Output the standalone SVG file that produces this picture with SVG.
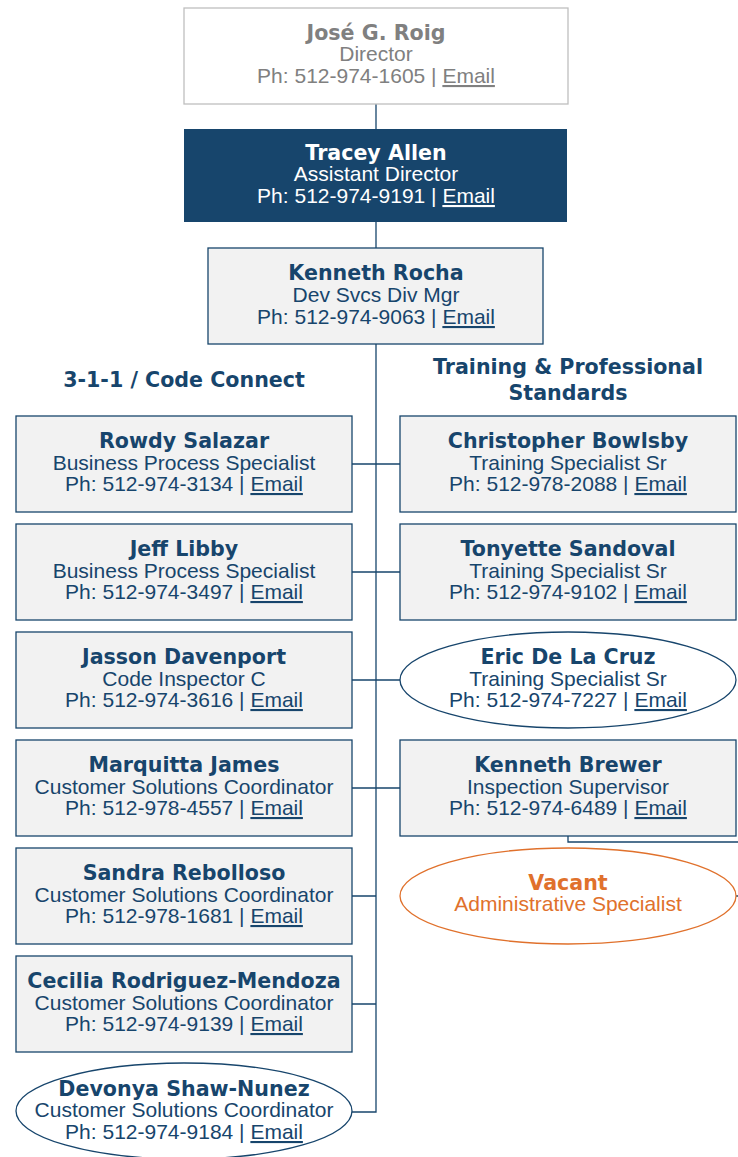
<svg xmlns="http://www.w3.org/2000/svg" width="738" height="1157" viewBox="0 0 738 1157">
<style>
.box{fill:#f2f2f2;stroke:#17456c;stroke-width:1.3}
.ell{fill:#fff;stroke:#17456c;stroke-width:1.3}
text{font-family:"Liberation Sans",Arial,sans-serif;font-size:21px;fill:#17456c;text-anchor:middle}
.nm{font-family:"DejaVu Sans",Verdana,sans-serif;font-weight:bold;font-size:20.6px}
.hd{font-family:"DejaVu Sans",Verdana,sans-serif;font-weight:bold;font-size:20.6px}
.u{text-decoration:underline}
.con{fill:none;stroke:#17456c;stroke-width:1.3}
</style>
<g id="connectors">
<path class="con" d="M376,104V1112H352"/>
<path class="con" d="M352,464H400M352,572H400M352,680H400M352,788H400M352,896H376M352,1004H376"/>
<path class="con" d="M568,836V842H738M736,896H738"/>
</g>
<g id="jose">
<rect x="184" y="8" width="384" height="96" fill="#fff" stroke="#bfbfbf" stroke-width="1.3"/>
<text x="376" y="40" class="nm" style="fill:#808080">José G. Roig</text>
<text x="376" y="61" style="fill:#808080">Director</text>
<text x="376" y="83" style="fill:#808080">Ph: 512-974-1605 | <tspan class="u">Email</tspan></text>
</g>
<g id="tracey">
<rect x="184" y="129" width="383" height="93" fill="#17456c"/>
<text x="376" y="160" class="nm" style="fill:#fff">Tracey Allen</text>
<text x="376" y="181" style="fill:#fff">Assistant Director</text>
<text x="376" y="203" style="fill:#fff">Ph: 512-974-9191 | <tspan class="u">Email</tspan></text>
</g>
<g id="rocha">
<rect class="box" x="208" y="248" width="335" height="96"/>
<text x="376" y="280" class="nm">Kenneth Rocha</text>
<text x="376" y="302">Dev Svcs Div Mgr</text>
<text x="376" y="324">Ph: 512-974-9063 | <tspan class="u">Email</tspan></text>
</g>
<g id="heading-left"><text x="184" y="387" class="hd">3-1-1 / Code Connect</text></g>
<g id="heading-right"><text x="568" y="374" class="hd">Training &amp; Professional</text><text x="568" y="400" class="hd">Standards</text></g>
<g id="rowdy">
<rect class="box" x="16" y="416" width="336" height="96"/>
<text x="184" y="448" class="nm">Rowdy Salazar</text>
<text x="184" y="470">Business Process Specialist</text>
<text x="184" y="491">Ph: 512-974-3134 | <tspan class="u">Email</tspan></text>
</g>
<g id="jeff">
<rect class="box" x="16" y="524" width="336" height="96"/>
<text x="184" y="556" class="nm">Jeff Libby</text>
<text x="184" y="578">Business Process Specialist</text>
<text x="184" y="599">Ph: 512-974-3497 | <tspan class="u">Email</tspan></text>
</g>
<g id="jasson">
<rect class="box" x="16" y="632" width="336" height="96"/>
<text x="184" y="664" class="nm">Jasson Davenport</text>
<text x="184" y="686">Code Inspector C</text>
<text x="184" y="707">Ph: 512-974-3616 | <tspan class="u">Email</tspan></text>
</g>
<g id="marquitta">
<rect class="box" x="16" y="740" width="336" height="96"/>
<text x="184" y="772" class="nm">Marquitta James</text>
<text x="184" y="794">Customer Solutions Coordinator</text>
<text x="184" y="815">Ph: 512-978-4557 | <tspan class="u">Email</tspan></text>
</g>
<g id="sandra">
<rect class="box" x="16" y="848" width="336" height="96"/>
<text x="184" y="880" class="nm">Sandra Rebolloso</text>
<text x="184" y="902">Customer Solutions Coordinator</text>
<text x="184" y="923">Ph: 512-978-1681 | <tspan class="u">Email</tspan></text>
</g>
<g id="cecilia">
<rect class="box" x="16" y="956" width="336" height="96"/>
<text x="184" y="988" class="nm">Cecilia Rodriguez-Mendoza</text>
<text x="184" y="1010">Customer Solutions Coordinator</text>
<text x="184" y="1031">Ph: 512-974-9139 | <tspan class="u">Email</tspan></text>
</g>
<g id="devonya">
<ellipse class="ell" cx="184" cy="1111" rx="168" ry="48"/>
<text x="184" y="1096" class="nm">Devonya Shaw-Nunez</text>
<text x="184" y="1117">Customer Solutions Coordinator</text>
<text x="184" y="1139">Ph: 512-974-9184 | <tspan class="u">Email</tspan></text>
</g>
<g id="christopher">
<rect class="box" x="400" y="416" width="336" height="96"/>
<text x="568" y="448" class="nm">Christopher Bowlsby</text>
<text x="568" y="470">Training Specialist Sr</text>
<text x="568" y="491">Ph: 512-978-2088 | <tspan class="u">Email</tspan></text>
</g>
<g id="tonyette">
<rect class="box" x="400" y="524" width="336" height="96"/>
<text x="568" y="556" class="nm">Tonyette Sandoval</text>
<text x="568" y="578">Training Specialist Sr</text>
<text x="568" y="599">Ph: 512-974-9102 | <tspan class="u">Email</tspan></text>
</g>
<g id="eric">
<ellipse class="ell" cx="568" cy="680" rx="168" ry="48"/>
<text x="568" y="664" class="nm">Eric De La Cruz</text>
<text x="568" y="686">Training Specialist Sr</text>
<text x="568" y="707">Ph: 512-974-7227 | <tspan class="u">Email</tspan></text>
</g>
<g id="brewer">
<rect class="box" x="400" y="740" width="336" height="96"/>
<text x="568" y="772" class="nm">Kenneth Brewer</text>
<text x="568" y="794">Inspection Supervisor</text>
<text x="568" y="815">Ph: 512-974-6489 | <tspan class="u">Email</tspan></text>
</g>
<g id="vacant">
<ellipse cx="568" cy="896" rx="168" ry="48" fill="#fff" stroke="#e0712c" stroke-width="1.3"/>
<text x="568" y="890" class="nm" style="fill:#e0712c">Vacant</text>
<text x="568" y="911" style="fill:#e0712c">Administrative Specialist</text>
</g>
</svg>
